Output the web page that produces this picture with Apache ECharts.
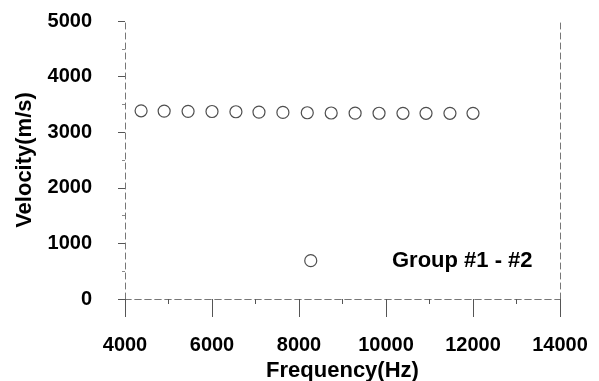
<!DOCTYPE html>
<html>
<head>
<meta charset="utf-8">
<script src="https://cdn.jsdelivr.net/npm/echarts@6/dist/echarts.min.js"></script>
<style>
  html, body { margin: 0; padding: 0; background: #fff; }
  #chart { width: 599px; height: 381px; }
</style>
</head>
<body>
<div id="chart"></div>
<script>
// 频率（Hz）与波速（m/s）
var frequency = [4370, 4900, 5450, 6000, 6550, 7080, 7630, 8190, 8740, 9290, 9840, 10390, 10920, 11470, 12000];
var velocity  = [3385, 3380, 3375, 3372, 3368, 3362, 3356, 3350, 3345, 3343, 3341, 3340, 3340, 3340, 3340];
// 离群点
var outlierFreq = [8270];
var outlierVel = [690];
var legendText = 'Group #1 - #2';

var points = frequency.map(function (f, i) { return [f, velocity[i]]; });
outlierFreq.forEach(function (f, i) { points.push([f, outlierVel[i]]); });

var chart = echarts.init(document.getElementById('chart'));
var font = 'Liberation Sans, Arial, sans-serif';
var dashLine = { show: true, lineStyle: { color: '#777', width: 1, type: [6, 4] } };
var plain = function (v) { return String(v); };

var option = {
    animation: false,
    grid: { left: 125, right: 39, top: 21, bottom: 82, outerBoundsMode: 'none', containLabel: false },
    xAxis: [{
        type: 'value', min: 4000, max: 14000, interval: 2000,
        name: 'Frequency(Hz)', nameLocation: 'middle', nameGap: 57,
        nameTextStyle: { color: '#000', fontSize: 22, fontWeight: 'bold', fontFamily: font },
        axisLine: dashLine,
        axisTick: { show: true, inside: false, length: 18, lineStyle: { color: '#555' } },
        minorTick: { show: true, splitNumber: 2, length: 5, lineStyle: { color: '#555' } },
        axisLabel: { color: '#000', fontSize: 20, fontWeight: 'bold', fontFamily: font, margin: 36, formatter: plain },
        splitLine: { show: false }
    }, {
        type: 'value', min: 4000, max: 14000, position: 'top',
        axisLine: dashLine, axisTick: { show: false }, axisLabel: { show: false }, splitLine: { show: false }
    }],
    yAxis: [{
        type: 'value', min: 0, max: 5000, interval: 1000,
        name: 'Velocity(m/s)', nameLocation: 'middle', nameGap: 89,
        nameTextStyle: { color: '#000', fontSize: 22, fontWeight: 'bold', fontFamily: font },
        axisLine: dashLine,
        axisTick: { show: true, inside: false, length: 7, lineStyle: { color: '#555' } },
        minorTick: { show: true, splitNumber: 2, length: 3, lineStyle: { color: '#888' } },
        axisLabel: { color: '#000', fontSize: 20, fontWeight: 'bold', fontFamily: font, margin: 33, formatter: plain },
        splitLine: { show: false }
    }, {
        type: 'value', min: 0, max: 5000, position: 'right',
        axisLine: dashLine, axisTick: { show: false }, axisLabel: { show: false }, splitLine: { show: false }
    }],
    graphic: [{
        type: 'text', left: 392, top: 250,
        style: { text: legendText, fill: '#000', font: 'bold 22px ' + font }
    }],
    series: [{
        type: 'scatter',
        data: points,
        symbol: 'circle',
        symbolSize: 12,
        itemStyle: { color: '#fff', borderColor: '#222', borderWidth: 1.2 }
    }]
};

chart.setOption(option);
</script>
</body>
</html>
